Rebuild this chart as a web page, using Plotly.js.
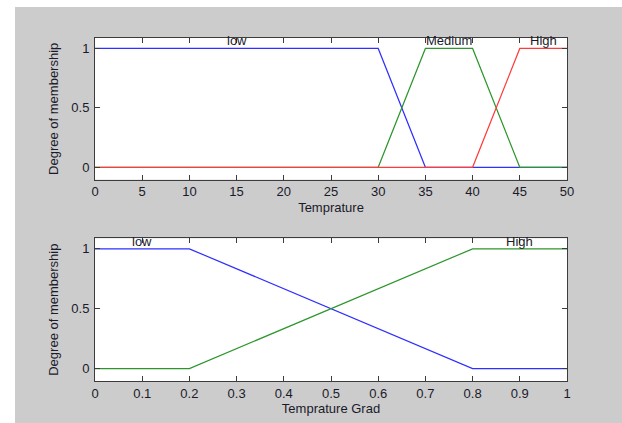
<!DOCTYPE html>
<html>
<head>
<meta charset="utf-8">
<script src="https://cdn.plot.ly/plotly-3.0.1.min.js"></script>
<style>
html,body{margin:0;padding:0;background:#ffffff;width:622px;height:423px;overflow:hidden;}
#chart{position:absolute;left:15px;top:7px;width:607px;height:416px;}
</style>
</head>
<body>
<div id="chart"></div>
<script>
// Top plot: Temprature
const tempLowX = [0, 30, 35, 50];
const tempLowY = [1, 1, 0, 0];
const tempMedX = [0, 30, 35, 40, 45, 50];
const tempMedY = [0, 0, 1, 1, 0, 0];
const tempHighX = [0, 40, 45, 50];
const tempHighY = [0, 0, 1, 1];
const tempLabels = ['low', 'Medium', 'High'];
const tempLabelX = [15, 37.5, 47.5];

// Bottom plot: Temprature Grad
const gradLowX = [0, 0.2, 0.8, 1];
const gradLowY = [1, 1, 0, 0];
const gradHighX = [0, 0.2, 0.8, 1];
const gradHighY = [0, 0, 1, 1];
const gradLabels = ['low', 'High'];
const gradLabelX = [0.1, 0.9];

const xTicks1 = [0, 5, 10, 15, 20, 25, 30, 35, 40, 45, 50];
const xTicks2 = [0, 0.1, 0.2, 0.3, 0.4, 0.5, 0.6, 0.7, 0.8, 0.9, 1];
const xTickText2 = ['0', '0.1', '0.2', '0.3', '0.4', '0.5', '0.6', '0.7', '0.8', '0.9', '1'];
const yTicks = [0, 0.5, 1];
const yTickText = ['0', '0.5', '1'];

const blue = '#2f2fff', green = '#2c962c', red = '#ff3a3a';

function line(x, y, color, xa, ya) {
  return {x: x, y: y, type: 'scatter', mode: 'lines', xaxis: xa, yaxis: ya,
          line: {color: color, width: 1.2}, hoverinfo: 'skip', showlegend: false};
}

const data = [
  line(tempLowX, tempLowY, blue, 'x', 'y'),
  line(tempMedX, tempMedY, green, 'x', 'y'),
  line(tempHighX, tempHighY, red, 'x', 'y'),
  line(gradLowX, gradLowY, blue, 'x2', 'y2'),
  line(gradHighX, gradHighY, green, 'x2', 'y2')
];

const font = {family: 'Arial, Liberation Sans, sans-serif', size: 13, color: '#1a1a2a'};

function xaxisDef(range, tickvals, ticktext, title, anchor) {
  return {
    range: range, tickvals: tickvals, ticktext: ticktext, tickmode: 'array',
    showgrid: false, zeroline: false, showline: true, linecolor: '#3c3c3c', linewidth: 1,
    mirror: 'ticks', ticks: 'inside', ticklen: 5, tickcolor: '#3c3c3c', tickwidth: 1,
    tickfont: font, anchor: anchor,
    title: {text: title, font: font, standoff: 4}
  };
}
function yaxisDef(domain, anchor) {
  return {
    range: [-0.104, 1.088], domain: domain, tickvals: yTicks, ticktext: yTickText, tickmode: 'array',
    showgrid: false, zeroline: false, showline: true, linecolor: '#3c3c3c', linewidth: 1,
    mirror: 'ticks', ticks: 'inside', ticklen: 5, tickcolor: '#3c3c3c', tickwidth: 1,
    tickfont: font, anchor: anchor, ticklabelstandoff: 2,
    title: {text: 'Degree of membership', font: font, standoff: 9}
  };
}

const annotations = [];
tempLabels.forEach((t, i) => annotations.push({
  x: tempLabelX[i], y: 1, xref: 'x', yref: 'y', text: t, showarrow: false,
  yanchor: 'bottom', font: font, yshift: -2
}));
gradLabels.forEach((t, i) => annotations.push({
  x: gradLabelX[i], y: 1, xref: 'x2', yref: 'y2', text: t, showarrow: false,
  yanchor: 'bottom', font: font, yshift: -2
}));

const layout = {
  width: 607, height: 416,
  paper_bgcolor: '#cccccc', plot_bgcolor: '#ffffff',
  margin: {l: 80, r: 54.5, t: 31, b: 42},
  xaxis: xaxisDef([0, 50], xTicks1, xTicks1.map(String), 'Temprature', 'y'),
  yaxis: yaxisDef([0.587, 1], 'x'),
  xaxis2: xaxisDef([0, 1], xTicks2, xTickText2, 'Temprature Grad', 'y2'),
  yaxis2: yaxisDef([0, 0.416], 'x2'),
  annotations: annotations,
  showlegend: false
};

Plotly.newPlot('chart', data, layout, {displayModeBar: false, staticPlot: true});
</script>
</body>
</html>
